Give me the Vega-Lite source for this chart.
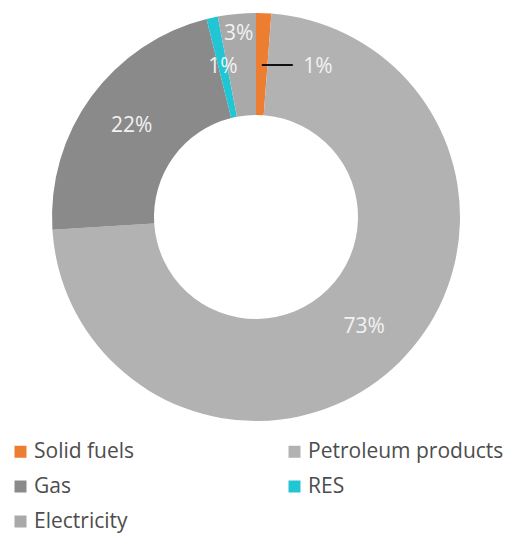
{
  "$schema": "https://vega.github.io/schema/vega-lite/v6.json",
  "width": 512,
  "height": 434,
  "autosize": {"type": "none"},
  "padding": {"left": 0, "top": 0, "right": 0, "bottom": 99},
  "background": "white",
  "config": {"view": {"stroke": null}},
  "data": {
    "values": [
      {"cat": "Solid fuels", "share": 1.2, "label": "1%", "ord": 1},
      {"cat": "Petroleum products", "share": 72.8, "label": "73%", "ord": 2},
      {"cat": "Gas", "share": 22.1, "label": "22%", "ord": 3},
      {"cat": "RES", "share": 0.9, "label": "1%", "ord": 4},
      {"cat": "Electricity", "share": 3.0, "label": "3%", "ord": 5}
    ]
  },
  "encoding": {
    "theta": {"field": "share", "type": "quantitative", "stack": true},
    "order": {"field": "ord", "type": "quantitative"},
    "detail": {"field": "cat", "type": "nominal"}
  },
  "layer": [
    {
      "mark": {"type": "arc", "outerRadius": 204, "innerRadius": 102},
      "encoding": {
        "color": {
          "field": "cat",
          "type": "nominal",
          "scale": {
            "domain": ["Solid fuels", "Gas", "Electricity", "Petroleum products", "RES"],
            "range": ["#ed7d31", "#8a8a8a", "#a9a9a9", "#b2b2b2", "#22c5d3"]
          },
          "legend": {
            "orient": "none",
            "legendX": 10,
            "legendY": 441,
            "columns": 2,
            "columnPadding": 149,
            "rowPadding": 13,
            "symbolType": "square",
            "symbolSize": 144,
            "symbolStrokeWidth": 0,
            "labelFont": "Open Sans",
            "labelFontSize": 21,
            "labelColor": "#4d4d4d",
            "labelOffset": 3,
            "labelLimit": 300,
            "title": null
          }
        }
      }
    },
    {
      "mark": {"type": "text", "radius": 154, "font": "Open Sans", "fontSize": 21, "fill": "#f2f2f2"},
      "encoding": {
        "text": {"condition": {"test": "datum.ord == 2 || datum.ord == 3 || datum.ord == 4", "field": "label"}, "value": ""}
      }
    },
    {
      "mark": {"type": "text", "radius": 184, "font": "Open Sans", "fontSize": 21, "fill": "#f2f2f2"},
      "encoding": {
        "text": {"condition": {"test": "datum.ord == 5", "field": "label"}, "value": ""}
      }
    },
    {
      "mark": {"type": "text", "radius": 162, "thetaOffset": 0.354, "font": "Open Sans", "fontSize": 21, "fill": "#f2f2f2"},
      "encoding": {
        "text": {"condition": {"test": "datum.ord == 1", "field": "label"}, "value": ""}
      }
    },
    {
      "mark": {"type": "text", "radius": 154.5, "thetaOffset": 0.101, "font": "Liberation Sans", "fontSize": 31, "fill": "#111111"},
      "encoding": {
        "text": {"condition": {"test": "datum.ord == 1", "value": "—"}, "value": ""}
      }
    }
  ]
}
